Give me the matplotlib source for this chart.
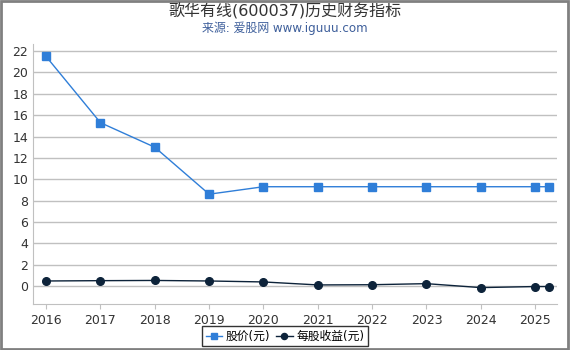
import matplotlib.pyplot as plt
from matplotlib.patches import Rectangle

plt.rcParams['font.family'] = ['DejaVu Sans', 'Noto Sans CJK SC']

years = [2016, 2017, 2018, 2019, 2020, 2021, 2022, 2023, 2024, 2025, 2025.25]
price = [21.5, 15.3, 13.0, 8.6, 9.3, 9.3, 9.3, 9.3, 9.3, 9.3, 9.3]
eps = [0.47, 0.50, 0.52, 0.47, 0.38, 0.10, 0.12, 0.22, -0.15, -0.05, -0.05]
xticks = [2016, 2017, 2018, 2019, 2020, 2021, 2022, 2023, 2024, 2025]
yticks = list(range(0, 23, 2))

fig = plt.figure(figsize=(5.7, 3.5), dpi=100)
ax = fig.add_axes([0.058, 0.131, 0.919, 0.743])

line_price = ax.plot(years, price, label='股价(元)')
line_eps = ax.plot(years, eps, label='每股收益(元)')

plt.setp(line_price, color='#2f7ed8', linewidth=1, marker='s', markersize=5.5)
plt.setp(line_eps, color='#0d233a', linewidth=1, marker='o', markersize=5.5)

ax.set_xlim(2015.76, 2025.40)
ax.set_ylim(-1.7, 22.66)
ax.set_xticks(xticks)
ax.set_xticklabels([str(y) for y in xticks])
ax.set_yticks(yticks)
ax.grid(axis='y', color='#c0c0c0', linewidth=1)
ax.set_axisbelow(True)

for side in ['top', 'right']:
    ax.spines[side].set_visible(False)
ax.spines['left'].set_color('#c0c0c0')
ax.spines['bottom'].set_color('#c0c0c0')
ax.tick_params(axis='both', colors='#c0c0c0', labelcolor='#333333', labelsize=9)
ax.tick_params(axis='y', length=0)

fig.text(0.5, 0.967, '歌华有线(600037)历史财务指标', ha='center', va='center',
         fontsize=11.5, color='#333333')
fig.text(0.5, 0.918, '来源: 爱股网 www.iguuu.com', ha='center', va='center',
         fontsize=8.6, color='#3e5f9b')

leg = fig.legend(loc='center', bbox_to_anchor=(0.5, 0.039), ncol=2,
                 frameon=True, fancybox=False, fontsize=8.5, handlelength=1.4,
                 handletextpad=0.3, columnspacing=0.5, borderpad=0.3,
                 markerscale=0.8)
leg.get_frame().set_edgecolor('black')
leg.get_frame().set_linewidth(1)

fig.patches.append(Rectangle((0.002, 0.004), 0.994, 0.994, transform=fig.transFigure,
                             fill=False, edgecolor='#808080', linewidth=2))

fig.savefig('out.png', dpi=100)
